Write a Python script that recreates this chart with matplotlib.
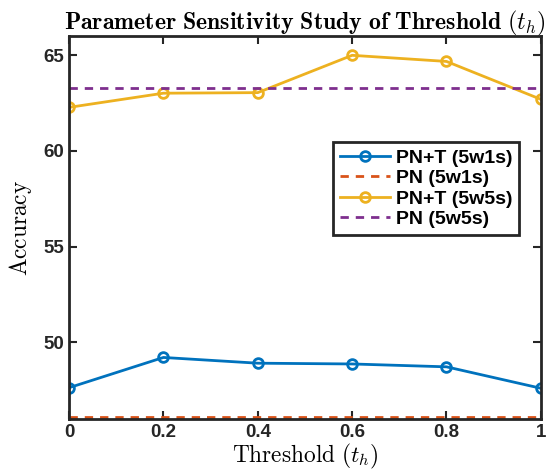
import matplotlib.pyplot as plt

plt.rcParams['mathtext.fontset'] = 'cm'
plt.rcParams['font.family'] = 'Liberation Sans'

x = [0, 0.2, 0.4, 0.6, 0.8, 1.0]
pnt_5w1s = [47.63, 49.21, 48.91, 48.87, 48.72, 47.6]
pn_5w1s = 46.1
pnt_5w5s = [62.28, 63.02, 63.05, 65.0, 64.68, 62.7]
pn_5w5s = 63.3

fig = plt.figure(figsize=(5.57, 4.76), dpi=100)
ax = fig.add_axes([0.124, 0.120, 0.847, 0.804])

ax.plot(x, pnt_5w1s, '-o', color='#0072BD', lw=2, ms=7, mfc='none', mew=2, label='PN+T (5w1s)')
ax.plot(x, [pn_5w1s] * len(x), '--', color='#D95319', lw=2, dashes=(3, 2.5), label='PN (5w1s)')
ax.plot(x, pnt_5w5s, '-o', color='#EDB120', lw=2, ms=7, mfc='none', mew=2, label='PN+T (5w5s)')
ax.plot(x, [pn_5w5s] * len(x), '--', color='#7E2F8E', lw=2, dashes=(3, 2.5), label='PN (5w5s)')

ax.set_xlim(0, 1)
ax.set_ylim(46, 66)
ax.set_xticks(x)
ax.set_xticklabels(['0', '0.2', '0.4', '0.6', '0.8', '1'])
ax.set_yticks([50, 55, 60, 65])
ax.tick_params(direction='in', top=True, right=True, length=6, width=1.5, labelsize=13.5, colors='#262626')
for lab in ax.get_xticklabels() + ax.get_yticklabels():
    lab.set_fontweight('bold')
for s in ax.spines.values():
    s.set_linewidth(2)
    s.set_color('#262626')

ax.set_title(r'$\mathbf{Parameter\ Sensitivity\ Study\ of\ Threshold}\ (t_h)$', fontsize=17.2, pad=5)
ax.set_xlabel(r'$\mathrm{Threshold}\ (t_h)$', fontsize=16.8, labelpad=1)
ax.set_ylabel(r'$\mathrm{Accuracy}$', fontsize=16.8, labelpad=7)

leg = ax.legend(loc='upper left', bbox_to_anchor=(0.559, 0.723), borderaxespad=0, fancybox=False,
                framealpha=1, edgecolor='#262626', prop={'weight': 'bold', 'size': 14},
                handlelength=2.6, labelspacing=0.15, borderpad=0.35, handletextpad=0.3)
leg.get_frame().set_linewidth(2)

fig.savefig('out.png', dpi=100)
